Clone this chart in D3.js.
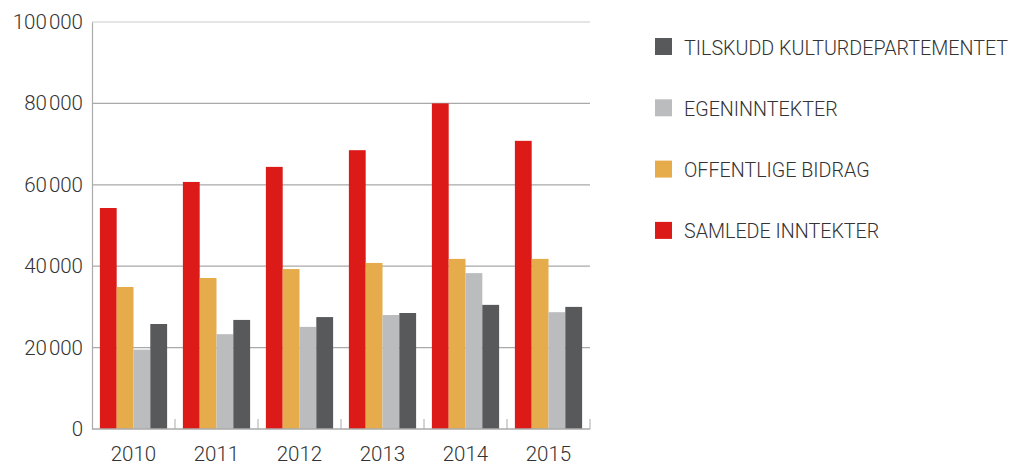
<!DOCTYPE html>
<html>
    <head>
        <script src="https://d3js.org/d3.v7.min.js"></script>
        <style>
            body { margin: 0; background-color: #ffffff; }
            text { font-family: Roboto, "Liberation Sans", sans-serif; font-weight: 300; fill: #333333; }
        </style>
    </head>
    <body>
        <div id="chart"></div>
        <script>
            const years = ["2010", "2011", "2012", "2013", "2014", "2015"];
            const seriesNames = ["SAMLEDE INNTEKTER", "OFFENTLIGE BIDRAG", "EGENINNTEKTER", "TILSKUDD KULTURDEPARTEMENTET"];
            const seriesColors = ["#dc1a17", "#e6ac4b", "#bbbcbe", "#58595b"];
            const samlede = [54300, 60700, 64400, 68500, 80000, 70800];
            const offentlige = [34900, 37100, 39300, 40800, 41800, 41800];
            const egen = [19500, 23300, 25100, 28000, 38300, 28700];
            const tilskudd = [25800, 26800, 27500, 28500, 30500, 30000];
            const yTicks = [0, 20000, 40000, 60000, 80000, 100000];

            const series = [samlede, offentlige, egen, tilskudd];
            const width = 1013, height = 463;
            const margin = { left: 92, right: 423, top: 22, bottom: 34 };

            const svg = d3.select("#chart").append("svg")
                .attr("width", width).attr("height", height);

            const x = d3.scaleBand().domain(years)
                .range([margin.left, width - margin.right])
                .paddingInner(0.19).paddingOuter(0.095);
            const xBar = d3.scaleBand().domain(d3.range(4)).range([0, x.bandwidth()]);
            const y = d3.scaleLinear().domain([0, 100000]).range([height - margin.bottom, margin.top]);

            // grid lines
            svg.append("g").selectAll("line").data(yTicks.filter(d => d > 0)).join("line")
                .attr("x1", margin.left).attr("x2", width - margin.right)
                .attr("y1", d => y(d)).attr("y2", d => y(d))
                .attr("stroke", d => d === 100000 ? "#cccccc" : "#a9a9a9")
                .attr("stroke-width", 1.2);

            // y axis, thousands split with a small gap
            const yAxis = svg.append("g").attr("transform", `translate(${margin.left},0)`)
                .call(d3.axisLeft(y).tickValues(yTicks).tickSize(0).tickPadding(9).tickFormat(""));
            yAxis.select(".domain").attr("stroke", "#aaaaaa").attr("stroke-width", 1.2);
            yAxis.selectAll(".tick text")
                .style("font-size", "20.5px").attr("fill", "#333333")
                .each(function(d) {
                    const t = d3.select(this);
                    if (d >= 1000) {
                        t.append("tspan").text(String(Math.floor(d / 1000)));
                        t.append("tspan").attr("dx", 2).text("000");
                    } else {
                        t.text(d);
                    }
                });

            // bars
            const groups = svg.append("g").selectAll("g").data(years).join("g")
                .attr("transform", d => `translate(${x(d)},0)`);
            groups.selectAll("rect").data((d, i) => series.map((s, k) => ({ k: k, v: s[i] }))).join("rect")
                .attr("x", d => xBar(d.k))
                .attr("width", xBar.bandwidth())
                .attr("y", d => y(d.v))
                .attr("height", d => y(0) - y(d.v))
                .attr("fill", d => seriesColors[d.k]);

            // x axis
            const base = y(0);
            const xAxis = svg.append("g");
            xAxis.append("line").attr("x1", margin.left).attr("x2", width - margin.right)
                .attr("y1", base).attr("y2", base).attr("stroke", "#aaaaaa").attr("stroke-width", 1.5);
            const bounds = d3.range(years.length + 1).map(i => margin.left + i * (width - margin.right - margin.left) / years.length);
            xAxis.selectAll("line.tick").data(bounds.slice(1)).join("line")
                .attr("class", "tick")
                .attr("x1", d => d).attr("x2", d => d)
                .attr("y1", base).attr("y2", base - 10)
                .attr("stroke", "#aaaaaa").attr("stroke-width", 1);
            xAxis.selectAll("text").data(years).join("text")
                .attr("x", d => x(d) + x.bandwidth() / 2)
                .attr("y", 461)
                .attr("text-anchor", "middle")
                .style("font-size", "20.5px")
                .text(d => d);

            // legend (reverse order, top = dark)
            const legend = svg.append("g").attr("transform", "translate(655,38)");
            const legendItems = d3.range(4).reverse();
            legendItems.forEach((k, i) => {
                const g = legend.append("g").attr("transform", `translate(0,${i * 61.3})`);
                g.append("rect").attr("width", 17).attr("height", 17).attr("fill", seriesColors[k]);
                g.append("text").attr("x", 29).attr("y", 16.5)
                    .style("font-size", "19.7px")
                    .text(seriesNames[k]);
            });
        </script>
    </body>
</html>
